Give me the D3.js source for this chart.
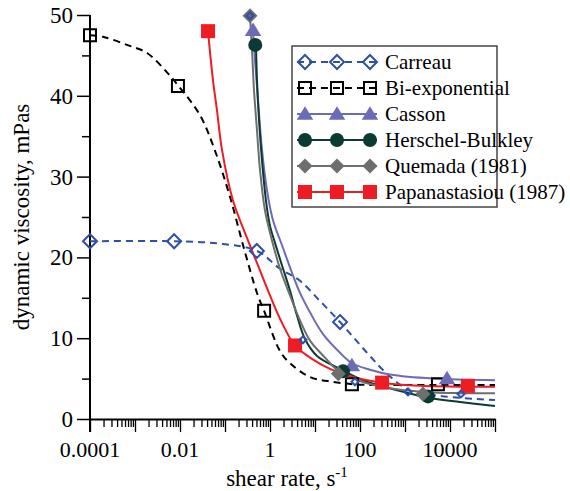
<!DOCTYPE html>
<html>
<head>
<meta charset="utf-8">
<script src="https://cdn.jsdelivr.net/npm/d3@7"></script>
</head>
<body style="margin:0">
<script>
// curves: [shear rate, viscosity]
const carreauCurve = [[1e-4, 22], [0.0074, 22], [0.077, 21.7], [0.514, 20.8], [1.67, 18.6], [4.64, 17.1],
  [12.9, 14.6], [35.9, 12.0], [143, 8.2], [398, 5.6], [1292, 3.5], [5995, 2.85], [59948, 2.4], [1e5, 2.35]]
const biexpCurve = [[1e-4, 47.5], [1.94e-4, 47.3], [6.64e-4, 46.3], [0.00185, 45.3], [0.00514, 42.9],
  [0.00903, 41.3], [0.0278, 37.6], [0.06, 33.2], [0.129, 27.5], [0.264, 21.1], [0.514, 15.6],
  [0.736, 13.4], [1.67, 8.4], [2.78, 6.9], [7.74, 5.2], [25.1, 4.6], [100, 4.25], [774, 4.2], [1e5, 4.2]]
const cassonCurve = [[0.419, 48.1], [0.464, 44.4], [0.541, 39.5], [0.664, 33.3], [0.858, 28.3], [1.166, 24.6],
  [1.85, 21.5], [3.08, 18.1], [4.64, 15.6], [7.74, 13.2], [15.1, 10.5], [35.9, 8.2], [66.4, 6.9],
  [167, 6.1], [464, 5.5], [4190, 5.0], [1e5, 4.8]]
const hbCurve = [[0.489, 46.3], [0.514, 41.9], [0.57, 37.0], [0.664, 32.0], [0.815, 27.0], [1.0, 23.9],
  [1.29, 21.8], [1.85, 19.0], [2.78, 15.9], [3.98, 12.8], [5.99, 9.9], [11.1, 7.8], [35.9, 6.2],
  [129, 4.7], [464, 3.8], [3594, 2.6], [16681, 2.1], [1e5, 1.6]]
const quemadaCurve = [[0.359, 49.9], [0.398, 45.7], [0.441, 40.7], [0.514, 35.7], [0.6, 30.8], [0.774, 25.8],
  [1.107, 22.1], [1.67, 18.6], [2.78, 15.3], [4.64, 12.2], [7.74, 9.7], [16.7, 7.6], [32.4, 6.0],
  [100, 4.7], [464, 3.8], [2512, 3.35], [16681, 3.2], [1e5, 3.2]]
const papaCurve = [[0.0419, 48.0], [0.0541, 41.9], [0.0664, 38.2], [0.0858, 33.3], [0.151, 27.0], [0.324, 22.1],
  [0.541, 19.0], [0.903, 15.9], [1.67, 12.4], [3.59, 9.1], [7.74, 7.6], [21.5, 6.2], [59.9, 5.3],
  [308, 4.5], [2154, 4.1], [26410, 4.0], [1e5, 4.0]]

// markers
const carreauPts = [[1e-4, 22], [0.0074, 22], [0.51, 20.8], [36, 12.0]]
const biexpPts = [[1e-4, 47.5], [0.009, 41.2], [0.74, 13.4], [66, 4.3], [5400, 4.3]]
const cassonPts = [[0.42, 48.1], [66, 6.6], [8580, 5.0]]
const hbPts = [[0.47, 46.3], [42, 5.9], [3240, 2.8]]
const quemadaPts = [[0.36, 49.9], [33, 5.6], [2500, 3.1]]
const papaPts = [[0.042, 48.0], [3.6, 9.1], [310, 4.5], [25000, 4.1]]
const smallPts = [[0.36, 49.9], [5.41, 9.8], [77.4, 4.6], [1166, 3.35], [17550, 3.1]]

const xLabels = [1e-4, 0.01, 1, 100, 10000]
const xLabelText = ['0.0001', '0.01', '1', '100', '10000']
const yLabels = [0, 10, 20, 30, 40, 50]
const yTicks = [0, 5, 10, 15, 20, 25, 30, 35, 40, 45, 50]
const legendNames = ['Carreau', 'Bi-exponential', 'Casson', 'Herschel-Bulkley', 'Quemada (1981)', 'Papanastasiou (1987)']

const width = 570
const height = 491

const series = [
  {curve: carreauCurve, pts: carreauPts, color: '#2f4fa8', dash: '7,5', shape: 'diamond', open: true},
  {curve: biexpCurve, pts: biexpPts, color: '#000', dash: '7,5', shape: 'square', open: true},
  {curve: cassonCurve, pts: cassonPts, color: '#6b6bb8', dash: null, shape: 'triangle', open: false},
  {curve: hbCurve, pts: hbPts, color: '#0b3a33', dash: null, shape: 'circle', open: false},
  {curve: quemadaCurve, pts: quemadaPts, color: '#6e6e6e', dash: null, shape: 'diamond', open: false},
  {curve: papaCurve, pts: papaPts, color: '#ee1d23', dash: null, shape: 'square', open: false}
]

const svg = d3.select('body').append('svg')
  .attr('width', width)
  .attr('height', height)

const x = d3.scaleLog().domain([1e-4, 1e5]).range([90, 495])
const y = d3.scaleLinear().domain([0, 50]).range([419, 15])

// serif text
const addText = (g, str, size) => g.append('text')
  .style('font-family', '"Times New Roman", "Liberation Serif", Tinos, FreeSerif')
  .style('font-size', size + 'px')
  .text(str)

// x axis with log minor ticks, no built-in labels
let xTicks = []
for (let k = -4; k <= 5; k++) {
  for (let m = 1; m <= 9; m++) {
    let v = m * Math.pow(10, k)
    if (v <= 1e5 * 1.0001) xTicks.push(v)
  }
}
const isDecade = (v) => Math.abs(Math.log10(v) - Math.round(Math.log10(v))) < 1e-6

const xAxis = svg.append('g')
  .attr('transform', `translate(0,${y(0)})`)
  .call(d3.axisBottom(x).tickValues(xTicks).tickSize(13).tickSizeOuter(0).tickFormat(''))
xAxis.selectAll('.tick line')
  .attr('y2', (v) => isDecade(v) ? 13 : 8)
  .attr('stroke-width', 1.3)
xAxis.select('.domain').attr('stroke-width', 2)
xAxis.selectAll('.tick text').remove()

xLabels.forEach((v, i) => {
  addText(svg, xLabelText[i], 22)
    .attr('x', x(v))
    .attr('y', y(0) + 38)
    .attr('text-anchor', 'middle')
})

// y axis
const yAxis = svg.append('g')
  .attr('transform', `translate(${x(1e-4)},0)`)
  .call(d3.axisLeft(y).tickValues(yTicks).tickSize(13).tickSizeOuter(0).tickFormat(''))
yAxis.selectAll('.tick line')
  .attr('x2', (v) => v % 10 === 0 ? -13 : -8)
  .attr('stroke-width', 1.5)
yAxis.select('.domain').attr('d', `M0,${y(50)}V${y(0) + 13}`).attr('stroke-width', 2)
yAxis.selectAll('.tick text').remove()

yLabels.forEach((v) => {
  addText(svg, String(v), 23)
    .attr('x', x(1e-4) - 17)
    .attr('y', y(v) + 8)
    .attr('text-anchor', 'end')
})

// axis titles
const xt = addText(svg, '', 23)
  .attr('x', 287)
  .attr('y', 486)
  .attr('text-anchor', 'middle')
xt.append('tspan').text('shear rate, s')
xt.append('tspan').attr('dy', -9).style('font-size', '15px').text('-1')

addText(svg, 'dynamic viscosity, mPas', 23)
  .attr('transform', `translate(29,217) rotate(-90)`)
  .attr('text-anchor', 'middle')

// marker paths
const symbolPath = (shape, s) => {
  if (shape === 'diamond') return `M0,${-s}L${s},0L0,${s}L${-s},0Z`
  if (shape === 'square') return `M${-s},${-s}H${s}V${s}H${-s}Z`
  return `M0,${-s * 1.05}L${s * 1.1},${s * 0.75}L${-s * 1.1},${s * 0.75}Z`
}

const drawMarker = (g, shape, cx, cy, color, open, s) => {
  if (shape === 'circle') {
    g.append('circle').attr('cx', cx).attr('cy', cy).attr('r', s)
      .attr('fill', color)
  } else {
    let m = g.append('path')
      .attr('d', symbolPath(shape, s))
      .attr('transform', `translate(${cx},${cy})`)
    if (open) {
      m.attr('fill', 'none').attr('stroke', color).attr('stroke-width', 2)
    } else {
      m.attr('fill', color)
    }
  }
}

const sizeOf = (d) => d.shape === 'diamond' ? (d.open ? 7 : 7.5) : d.shape === 'square' ? (d.open ? 6 : 7) :
  d.shape === 'triangle' ? 7.5 : 7

const line = d3.line()
  .x((d) => x(d[0]))
  .y((d) => y(d[1]))
  .curve(d3.curveCatmullRom.alpha(0.5))

const plot = svg.append('g')
series.forEach((d) => {
  plot.append('path')
    .datum(d.curve)
    .attr('d', line)
    .attr('fill', 'none')
    .attr('stroke', d.color)
    .attr('stroke-width', 2)
    .attr('stroke-dasharray', d.dash)
})

// markers drawn in the order of the legend
series.forEach((d) => {
  d.pts.forEach((p) => drawMarker(plot, d.shape, x(p[0]), y(p[1]), d.color, d.open, sizeOf(d)))
})

// small blue diamonds
smallPts.forEach((p) => drawMarker(plot, 'diamond', x(p[0]), y(p[1]), '#2f4fa8', true, 3.5))

// legend
const legend = svg.append('g')
legend.append('rect')
  .attr('x', 292)
  .attr('y', 46)
  .attr('width', 205)
  .attr('height', 161)
  .attr('fill', '#fff')
  .attr('stroke', '#444')
  .attr('stroke-width', 1.5)

series.forEach((d, i) => {
  let ly = 62 + i * 26
  legend.append('line')
    .attr('x1', 297).attr('x2', 377)
    .attr('y1', ly).attr('y2', ly)
    .attr('stroke', d.color)
    .attr('stroke-width', 2)
    .attr('stroke-dasharray', d.dash)
  ;[305, 337, 370].forEach((mx) => drawMarker(legend, d.shape, mx, ly, d.color, d.open, sizeOf(d)))
  addText(legend, legendNames[i], 21)
    .attr('x', 385)
    .attr('y', ly + 7)
})
</script>
</body>
</html>
